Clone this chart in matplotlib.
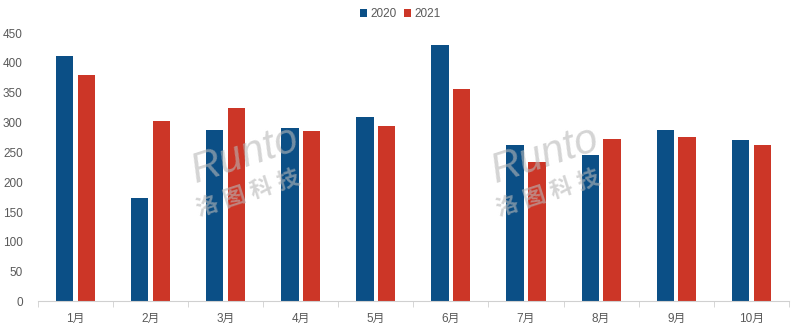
import matplotlib
matplotlib.use("Agg")
import matplotlib.pyplot as plt
import numpy as np

months = ["1月", "2月", "3月", "4月", "5月", "6月", "7月", "8月", "9月", "10月"]
sales_2020 = [412, 173, 287, 290, 309, 430, 262, 245, 288, 271]
sales_2021 = [379, 303, 324, 285, 294, 357, 233, 273, 275, 262]
yticks = [0, 50, 100, 150, 200, 250, 300, 350, 400, 450]

blue = "#0b4f86"
red = "#cc3627"
grey = "#595959"

plt.rcParams['font.family'] = ['Liberation Sans', 'Noto Sans CJK SC', 'DejaVu Sans']

fig = plt.figure(figsize=(8, 3.29), dpi=100)
ax = fig.add_axes([0.0475, 0.0836, 0.9385, 0.816])

x = np.arange(len(months))
w = 0.23
ax.bar(x - 0.145, sales_2020, w, color=blue, label="2020")
ax.bar(x + 0.145, sales_2021, w, color=red, label="2021")

ax.set_xlim(-0.5, len(months) - 0.5)
ax.set_ylim(0, 450)
ax.set_yticks(yticks)
ax.set_xticks(x)
ax.set_xticklabels(months)
ax.set_xticks(np.arange(-0.5, len(months)), minor=True)

for s in ["top", "right", "left"]:
    ax.spines[s].set_visible(False)
ax.spines["bottom"].set_color("#d0d0d0")
ax.tick_params(axis="x", which="major", length=0, pad=8, labelsize=8.5, labelcolor=grey)
ax.tick_params(axis="x", which="minor", length=4, color="#d0d0d0", direction="out")
ax.tick_params(axis="y", length=0, pad=11, labelsize=8.5, labelcolor=grey)

fig.legend(loc="center", bbox_to_anchor=(0.5, 0.957), ncol=2, frameon=False,
           fontsize=8.5, handlelength=0.6, handleheight=0.6, handletextpad=0.3,
           columnspacing=0.6, labelcolor=grey)

# watermark
for wx in [245, 545]:
    fig.text(wx / 800, 1 - 155 / 329, "Runto", fontsize=30, color="#b8b8b8", alpha=0.6,
             rotation=18, ha="center", va="center", fontstyle="italic")
    fig.text(wx / 800 + 0.005, 1 - 195 / 329, "洛 图 科 技", fontsize=16, color="#b8b8b8",
             alpha=0.6, rotation=18, ha="center", va="center", fontweight="bold")

fig.savefig("out.png", dpi=100)
